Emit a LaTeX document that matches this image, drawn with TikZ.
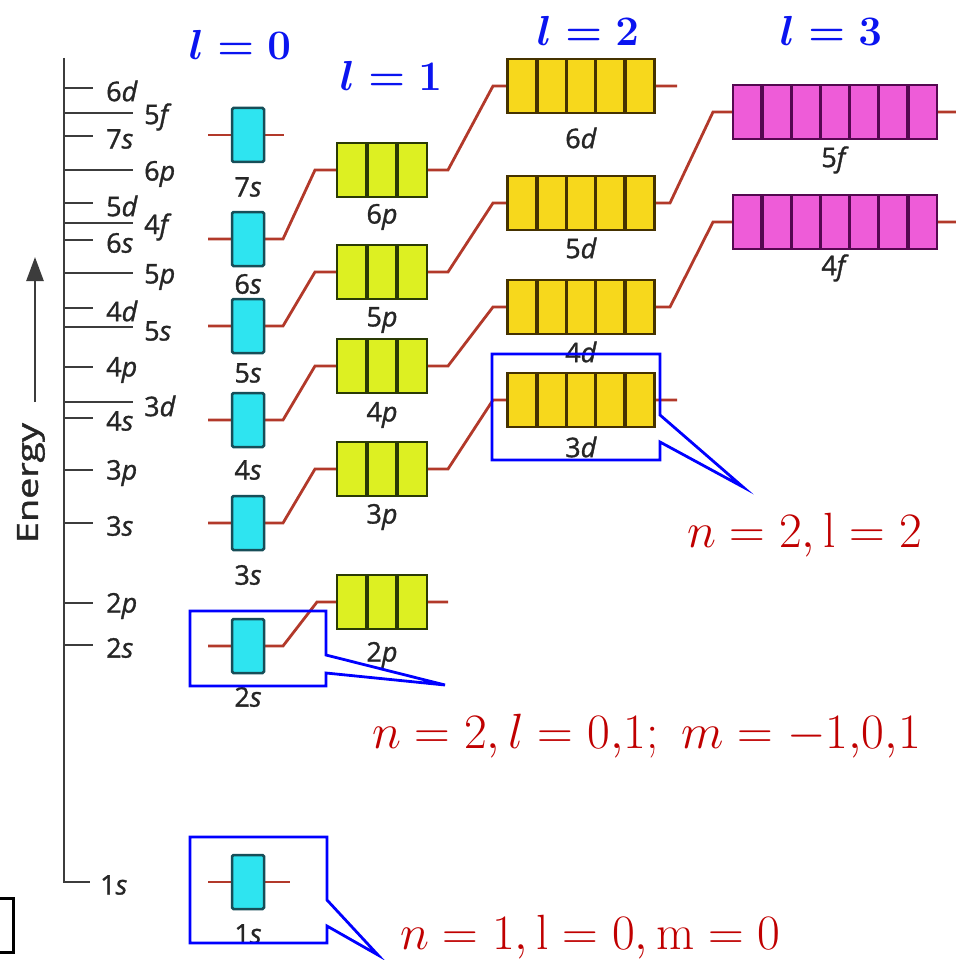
\RequirePackage{fix-cm}
\documentclass[tikz,border=0pt]{standalone}
\usepackage{fontspec}
\newfontfamily\lblfont[FakeBold=1.2]{Open Sans}
\usetikzlibrary{calc,arrows.meta}
\definecolor{sfill}{HTML}{2EE4F0}
\definecolor{sline}{HTML}{174E58}
\definecolor{pfill}{HTML}{DDF022}
\definecolor{pline}{HTML}{2A3A04}
\definecolor{dfill}{HTML}{F7D81C}
\definecolor{dline}{HTML}{453200}
\definecolor{ffill}{HTML}{EE5CD8}
\definecolor{fline}{HTML}{540850}
\definecolor{conncol}{HTML}{B2392A}
\definecolor{axcol}{HTML}{3C3C3C}
\definecolor{lblcol}{HTML}{262626}
\definecolor{hdrblue}{HTML}{0A14F0}
\definecolor{qnred}{HTML}{C00000}
\definecolor{callblue}{HTML}{0000FF}
\tikzset{
  orb/.style={draw, line width=2.5pt, minimum height=54pt, inner sep=0pt, outer sep=0pt},
  sorb/.style={orb, fill=sfill, draw=sline, minimum width=32pt, rounded corners=1.5pt},
  porb/.style={orb, fill=pfill, draw=pline, minimum width=90pt},
  dorb/.style={orb, fill=dfill, draw=dline, minimum width=147pt},
  forb/.style={orb, fill=ffill, draw=fline, minimum width=204pt},
  conn/.style={draw=conncol, line width=2.8pt},
  olbl/.style={font=\lblfont\fontsize{27}{29}\selectfont, text=lblcol, inner sep=0pt},
  tlbl/.style={olbl, anchor=west},
  tickline/.style={draw=axcol, line width=2.4pt},
  axisline/.style={draw=axcol, line width=2.6pt},
  hdr/.style={text=hdrblue, font=\fontsize{42}{46}\selectfont\boldmath, inner sep=0pt},
  qn/.style={text=qnred, font=\fontsize{49.5}{53}\selectfont, inner sep=0pt, anchor=base west},
  callout/.style={draw=callblue, line width=2.8pt, line join=miter},
}
\newcommand{\orbbox}[6]{%
  \node[#5] (#1) at (#2,#3) {};
  \pgfmathtruncatemacro{\lastcell}{#4-1}
  \foreach \k in {1,...,\lastcell}{%
    \draw[draw=#6,line width=3.4pt] ($(#1.south west)!\k/#4!(#1.south east)$) -- ($(#1.north west)!\k/#4!(#1.north east)$);}
}
\begin{document}
\begin{tikzpicture}[x=1pt,y=-1pt]
\fill[white] (0,0) rectangle (955,960);
\useasboundingbox (0,0) rectangle (955,960);

% ---------- energy axis ----------
\draw[axisline] (64,58) -- (64,882) -- (90,882);
\node[olbl, anchor=west] (ax1s) at (100,885) {1\textit{s}};
% short ticks
\foreach \yy/\lab in {88/6\textit{d},136/7\textit{s},203/5\textit{d},240/6\textit{s},308/4\textit{d},367/4\textit{p},418/4\textit{s},470/3\textit{p},523/3\textit{s},603/2\textit{p},645/2\textit{s}}{
  \draw[tickline] (64,\yy) -- (93,\yy);
  \node[tlbl] at (106,\yy+3) {\lab};
}
% long ticks
\foreach \yy/\lab in {113/5\textit{f},170/6\textit{p},223/4\textit{f},273/5\textit{p},327/5\textit{s},402/3\textit{d}}{
  \draw[tickline] (64,\yy) -- (133,\yy);
  \node[tlbl] at (144,\yy+4) {\lab};
}
\draw[axisline, -{Triangle[length=24pt,width=17pt]}] (35,402) -- (35,257);
\node[olbl, rotate=90] (energy) at (31,483) {\fontsize{29}{31}\selectfont\scalebox{1.3}[1]{Energy}};

% connectors first
% n = 1
\draw[conn] (208,882) -- (290,882);
% n = 2
\draw[conn] (208,646) -- (283,646) -- (317,602) -- (448,602);
% n = 3
\draw[conn] (208,523) -- (283,523) -- (315,469) -- (448,469) -- (493,400) -- (677,400);
% n = 4
\draw[conn] (208,420) -- (283,420) -- (315,366) -- (448,366) -- (493,307) -- (670,307) -- (713,222) -- (965,222);
% n = 5
\draw[conn] (208,326) -- (283,326) -- (315,272) -- (448,272) -- (493,203) -- (670,203) -- (713,112) -- (965,112);
% n = 6
\draw[conn] (208,239) -- (283,239) -- (315,170) -- (448,170) -- (493,86) -- (677,86);
% n = 7
\draw[conn] (208,135) -- (284,135);

% s boxes
\foreach \nm/\yy in {s1/882,s2/646,s3/523,s4/420,s5/326,s6/239,s7/135}{
  \node[sorb] (\nm) at (248,\yy) {};
}
% p boxes
\orbbox{p2}{382}{602}{3}{porb}{pline}
\orbbox{p3}{382}{469}{3}{porb}{pline}
\orbbox{p4}{382}{366}{3}{porb}{pline}
\orbbox{p5}{382}{272}{3}{porb}{pline}
\orbbox{p6}{382}{170}{3}{porb}{pline}
% d boxes
\orbbox{d3}{581}{400}{5}{dorb}{dline}
\orbbox{d4}{581}{307}{5}{dorb}{dline}
\orbbox{d5}{581}{203}{5}{dorb}{dline}
\orbbox{d6}{581}{86}{5}{dorb}{dline}
% f boxes
\orbbox{f4}{835}{222}{7}{forb}{fline}
\orbbox{f5}{835}{112}{7}{forb}{fline}

% labels under boxes
\node[olbl] (ls7) at (248,187) {7\textit{s}};
\node[olbl] (ls6) at (248,284) {6\textit{s}};
\node[olbl] (ls5) at (248,373) {5\textit{s}};
\node[olbl] (ls4) at (248,470) {4\textit{s}};
\node[olbl] (ls3) at (248,575) {3\textit{s}};
\node[olbl] (ls2) at (248,697) {2\textit{s}};
\node[olbl] (ls1) at (248,934) {1\textit{s}};
\node[olbl] (lp6) at (382,217) {6\textit{p}};
\node[olbl] (lp5) at (382,320) {5\textit{p}};
\node[olbl] (lp4) at (382,415) {4\textit{p}};
\node[olbl] (lp3) at (382,517) {3\textit{p}};
\node[olbl] (lp2) at (382,655) {2\textit{p}};
\node[olbl] (ld6) at (581,138) {6\textit{d}};
\node[olbl] (ld5) at (581,248) {5\textit{d}};
\node[olbl] (ld4) at (581,352) {4\textit{d}};
\node[olbl] (ld3) at (581,447) {3\textit{d}};
\node[olbl] (lf5) at (835,160) {5\textit{f}};
\node[olbl] (lf4) at (835,268) {4\textit{f}};

% headers
\node[hdr] (h0) at (240,45) {$l=0$};
\node[hdr] (h1) at (391,76) {$l=1$};
\node[hdr] (h2) at (588,31) {$l=2$};
\node[hdr] (h3) at (831,31) {$l=3$};

% callouts
\draw[callout] (190,611) -- (326,611) -- (326,655) -- (445,685) -- (326,673) -- (326,686) -- (190,686) -- cycle;
\draw[callout] (492,354) -- (660,354) -- (660,415) -- (743,487) -- (660,442) -- (660,460) -- (492,460) -- cycle;
\draw[callout] (190,837) -- (327,837) -- (327,900) -- (378,955) -- (327,926) -- (327,943) -- (190,943) -- cycle;

% quantum-number texts
\node[qn] (q2) at (372,748) {$n=2,l=0{,}1;\ m=-1{,}0{,}1$};
\node[qn] (q3) at (687,547) {$n=2,\mathrm{l}=2$};
\node[qn] (q1) at (400,949) {$n=1,\mathrm{l}=0,\mathrm{m}=0$};

% partial black frame at bottom left
\draw[black, line width=3pt] (-10,898) rectangle (13,952);
\end{tikzpicture}
\end{document}
